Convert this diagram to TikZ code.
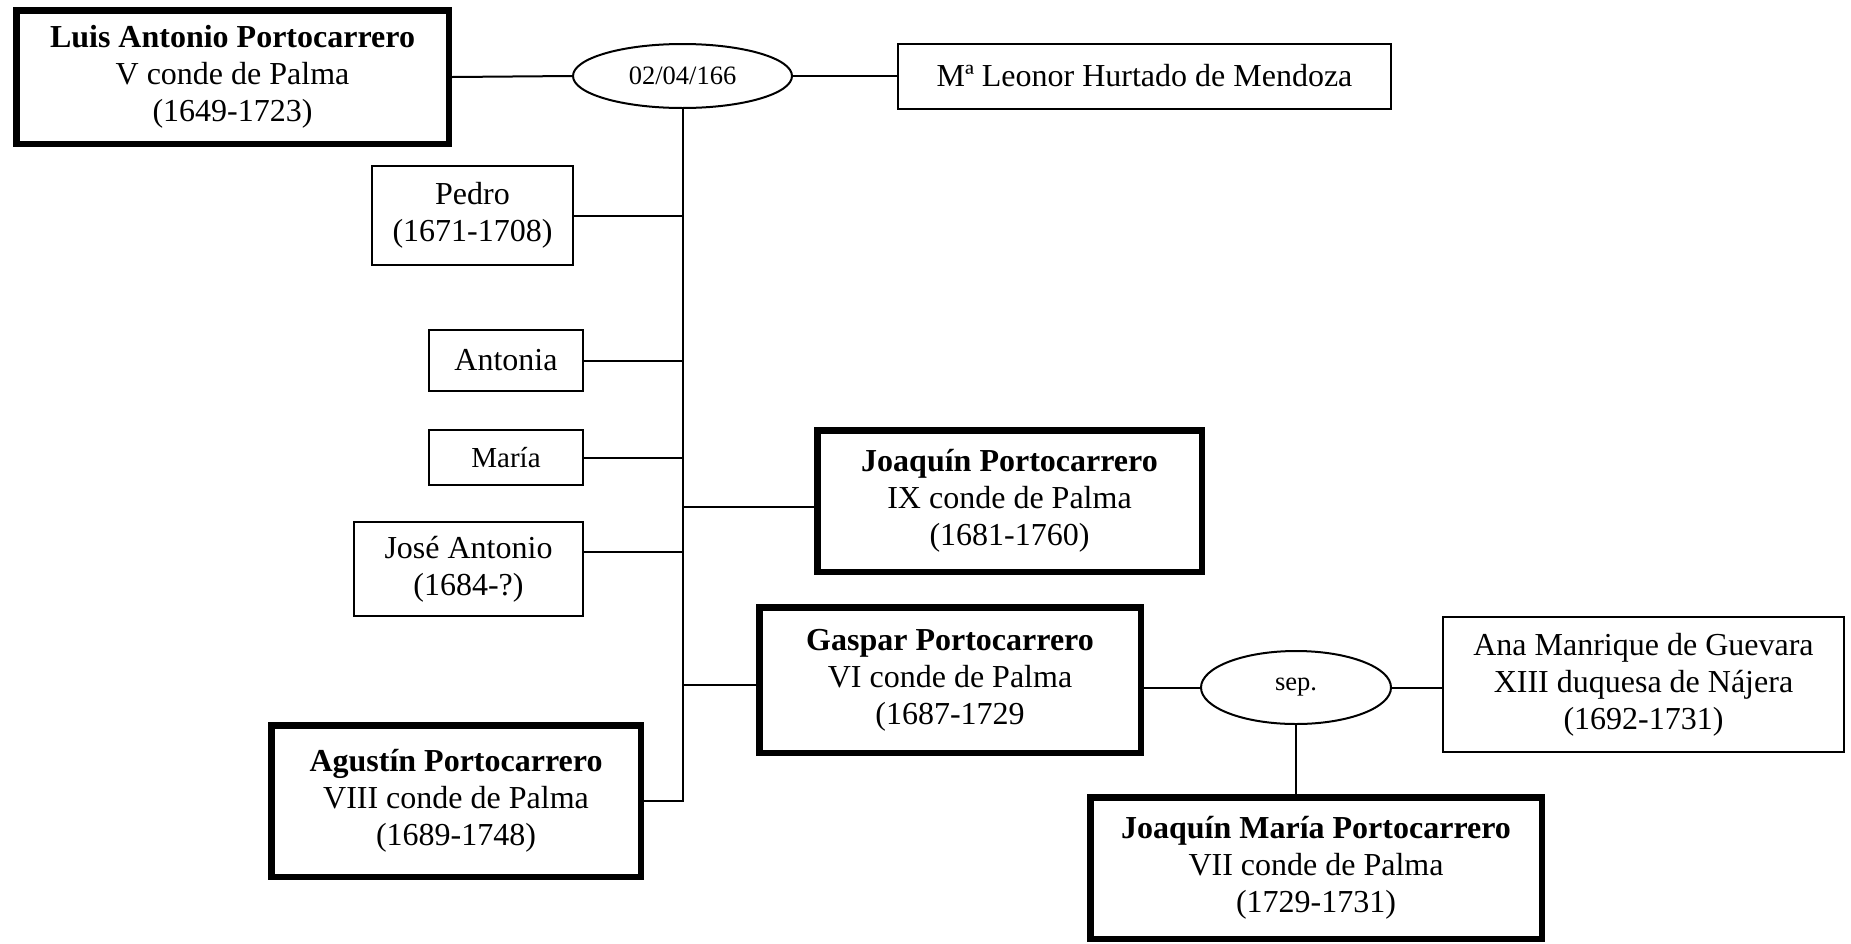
\documentclass[tikz,border=0pt]{standalone}
\usepackage{fontspec}
\setmainfont{Liberation Serif}
\usepackage{tikz}
\usetikzlibrary{positioning, shapes}

\begin{document}
\begin{tikzpicture}[
		x=1pt, y=-1pt,
		node distance=10pt,
		person/.style={rectangle, draw, line width=2pt, align=center, inner sep=0pt,
			font=\fontsize{32}{37}\selectfont},
		heir/.style={person, line width=6.5pt},
		union/.style={ellipse, draw, line width=2pt, inner sep=0pt,
			font=\fontsize{26.5}{30}\selectfont},
		link/.style={line width=2pt}
		]
		\useasboundingbox (0,0) rectangle (1851,943);
		
		% Parents and marriage
		\node[heir, minimum width=432.5pt, minimum height=133.5pt] (luis) at (232.5,77) {%
			\textbf{Luis Antonio Portocarrero} \\
			V conde de Palma \\
			(1649-1723)
		};
		\node[union, minimum width=219pt, minimum height=64pt, right=120pt of luis, yshift=1pt] (wed) {02/04/166};
		\node[person, minimum width=493pt, minimum height=65pt, right=104pt of wed] (leonor) {Mª Leonor Hurtado de Mendoza};
		
		% Children, left of the line
		\node[person, minimum width=201pt, minimum height=99pt] (pedro) at (472.5,215.5) {Pedro \\ (1671-1708)};
		\node[person, minimum width=154pt, minimum height=61pt] (antonia) at (506,360.5) {Antonia};
		\node[person, minimum width=154pt, minimum height=55pt, font=\fontsize{29}{34}\selectfont] (maria) at (506,457.5) {María};
		\node[person, minimum width=229pt, minimum height=94pt] (jose) at (468.5,569) {José Antonio \\ (1684-?)};
		\node[heir, minimum width=369.5pt, minimum height=151.5pt] (agustin) at (456,801) {%
			\textbf{Agustín Portocarrero} \\
			VIII conde de Palma \\
			(1689-1748)
		};
		
		% Children, right of the line
		\node[heir, minimum width=384.5pt, minimum height=141.5pt] (joaquin) at (1009.5,501) {%
			\textbf{Joaquín Portocarrero} \\
			IX conde de Palma \\
			(1681-1760)
		};
		\node[heir, minimum width=381.5pt, minimum height=145.5pt] (gaspar) at (950,680) {%
			\textbf{Gaspar Portocarrero} \\
			VI conde de Palma \\
			(1687-1729
		};
		
		% Second marriage
		\node[union, minimum width=190pt, minimum height=73pt] (sep) at (1296,687.5) {sep.};
		\node[person, minimum width=401pt, minimum height=135pt] (ana) at (1643.5,684.5) {%
			Ana Manrique de Guevara \\
			XIII duquesa de Nájera \\
			(1692-1731)
		};
		\node[heir, minimum width=451.5pt, minimum height=141.5pt] (jmaria) at (1316,868) {%
			\textbf{Joaquín María Portocarrero} \\
			VII conde de Palma \\
			(1729-1731)
		};
		
		% Connectors
		\draw[link] (luis.east) -- (wed.west);
		\draw[link] (wed.east) -- (leonor.west);
		\draw[link] (wed.south) |- (agustin.east);
		\foreach \kid in {pedro, antonia, maria}
			\draw[link] (\kid.east) -- (\kid.east -| wed.south);
		\draw[link] ([yshift=17pt]jose.east) -- ([yshift=17pt]jose.east -| wed.south);
		\draw[link] ([yshift=-6pt]joaquin.west) -- ([yshift=-6pt]joaquin.west -| wed.south);
		\draw[link] ([yshift=-5pt]gaspar.west) -- ([yshift=-5pt]gaspar.west -| wed.south);
		\draw[link] (sep.west) -- (sep.west -| gaspar.east);
		\draw[link] (sep.east) -- (sep.east -| ana.west);
		\draw[link] (sep.south) -- (sep.south |- jmaria.north);
		
	\end{tikzpicture}
\end{document}
